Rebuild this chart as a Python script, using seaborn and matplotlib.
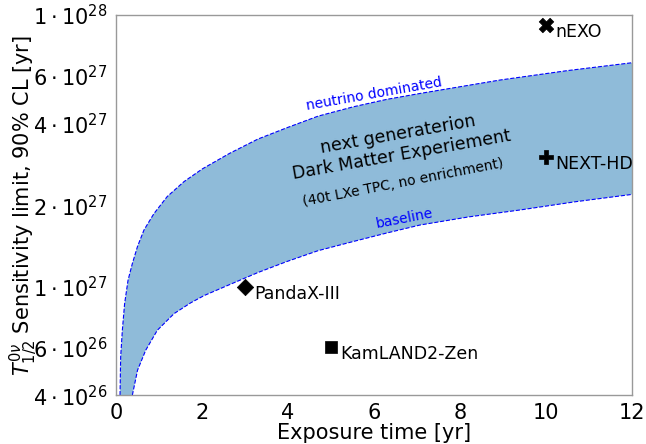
import numpy as np
import pandas as pd
import matplotlib
matplotlib.use('Agg')
import matplotlib.pyplot as plt
import matplotlib.ticker as mticker
import seaborn as sns

# curves (exposure in yr, half-life sensitivity in yr)
upper_x = [0.093, 0.108, 0.147, 0.20, 0.28, 0.38, 0.50, 0.65, 0.88, 1.19, 1.58, 2.01,
           2.64, 3.3, 3.97, 4.7, 5.52, 6.3, 7.07, 8.93, 10.5, 12.0]
upper_y = [4.0e26, 5.53e26, 6.93e26, 8.69e26, 1.06e27, 1.22e27, 1.41e27, 1.62e27, 1.86e27,
           2.15e27, 2.44e27, 2.72e27, 3.1e27, 3.5e27, 3.85e27, 4.25e27, 4.6e27, 4.9e27,
           5.15e27, 5.77e27, 6.25e27, 6.68e27]
lower_x = [0.38, 0.50, 0.69, 0.96, 1.35, 1.74, 2.05, 2.64, 3.3, 3.97, 4.7, 5.52, 6.3,
           7.07, 8.2, 9.4, 10.7, 12.0]
lower_y = [4.0e26, 4.94e26, 5.85e26, 6.93e26, 7.98e26, 8.75e26, 9.3e26, 1.02e27, 1.13e27,
           1.24e27, 1.36e27, 1.47e27, 1.58e27, 1.69e27, 1.81e27, 1.92e27, 2.06e27, 2.19e27]

# other experiments
exp_names = ['nEXO', 'NEXT-HD', 'PandaX-III', 'KamLAND2-Zen']
exp_x = [10, 10, 3, 5]
exp_y = [9.2e27, 3.0e27, 1.0e27, 6.0e26]
exp_markers = ['X', 'P', 'D', 's']
exp_sizes = [110, 110, 70, 70]

yticks = [4e26, 6e26, 1e27, 2e27, 4e27, 6e27, 1e28]

sns.set_style('white')
plt.rcParams['font.family'] = ['DejaVu Sans']
plt.rcParams['mathtext.fontset'] = 'dejavusans'
plt.rcParams['text.color'] = 'black'
plt.rcParams['axes.labelcolor'] = 'black'

fig = plt.figure(figsize=(6.46, 4.44), dpi=100)
ax = fig.add_axes([0.1796, 0.110, 0.7988, 0.856])

# band between baseline and neutrino dominated
band_x = upper_x + lower_x[::-1]
band_y = upper_y + lower_y[::-1]
ax.fill(band_x, band_y, color='#8fbbd9', lw=0, zorder=1)

df_up = pd.DataFrame({'x': upper_x, 'y': upper_y})
df_lo = pd.DataFrame({'x': lower_x, 'y': lower_y})
sns.lineplot(data=df_up, x='x', y='y', ax=ax, color='blue', lw=0.8, ls='--', zorder=2)
sns.lineplot(data=df_lo, x='x', y='y', ax=ax, color='blue', lw=0.8, ls='--', zorder=2)

for name, x, y, m, s in zip(exp_names, exp_x, exp_y, exp_markers, exp_sizes):
    sns.scatterplot(x=[x], y=[y], marker=m, s=s, color='black', edgecolor='black',
                    linewidth=0.5, ax=ax, zorder=3)
    ax.annotate(name, (x, y), xytext=(9, -7), textcoords='offset pixels',
                ha='left', va='center', fontsize=12.5, color='black')

ax.set_yscale('log')
ax.set_xlim(0, 12)
ax.set_ylim(4e26, 1e28)

def fmt(v, pos):
    e = int(np.floor(np.log10(v) + 1e-9))
    m = int(round(v / 10**e))
    return r'$%d\cdot10^{%d}$' % (m, e)

ax.yaxis.set_major_locator(mticker.FixedLocator(yticks))
ax.yaxis.set_major_formatter(mticker.FuncFormatter(fmt))
ax.yaxis.set_minor_locator(mticker.LogLocator(base=10, subs=np.arange(1, 10)))
ax.yaxis.set_minor_formatter(mticker.NullFormatter())
ax.xaxis.set_major_locator(mticker.MultipleLocator(2))
ax.xaxis.set_minor_locator(mticker.MultipleLocator(0.5))

ax.tick_params(which='both', direction='in', colors='#555555', labelcolor='black')
ax.tick_params(which='major', labelsize=15, length=0, pad=6)
ax.tick_params(which='minor', length=3, width=0.6)
for sp in ax.spines.values():
    sp.set_color('#999999')
    sp.set_linewidth(1.0)

ax.set_xlabel('Exposure time [yr]', fontsize=15, labelpad=0)
ax.set_ylabel(r'$T^{0\nu}_{1/2}$ Sensitivity limit, 90% CL [yr]', fontsize=15, labelpad=-4)

ax.text(6.0, 5.1e27, 'neutrino dominated', color='blue', fontsize=10, rotation=10,
        ha='center', va='center', rotation_mode='anchor')
ax.text(6.72, 1.78e27, 'baseline', color='blue', fontsize=10, rotation=11,
        ha='center', va='center', rotation_mode='anchor')
ax.text(6.6, 3.35e27, 'next generaterion\nDark Matter Experiement', fontsize=12.5, rotation=10,
        ha='center', va='center', rotation_mode='anchor', multialignment='center')
ax.text(6.67, 2.42e27, '(40t LXe TPC, no enrichment)', fontsize=10, rotation=11,
        ha='center', va='center', rotation_mode='anchor')

fig.savefig('out.png', dpi=100)
